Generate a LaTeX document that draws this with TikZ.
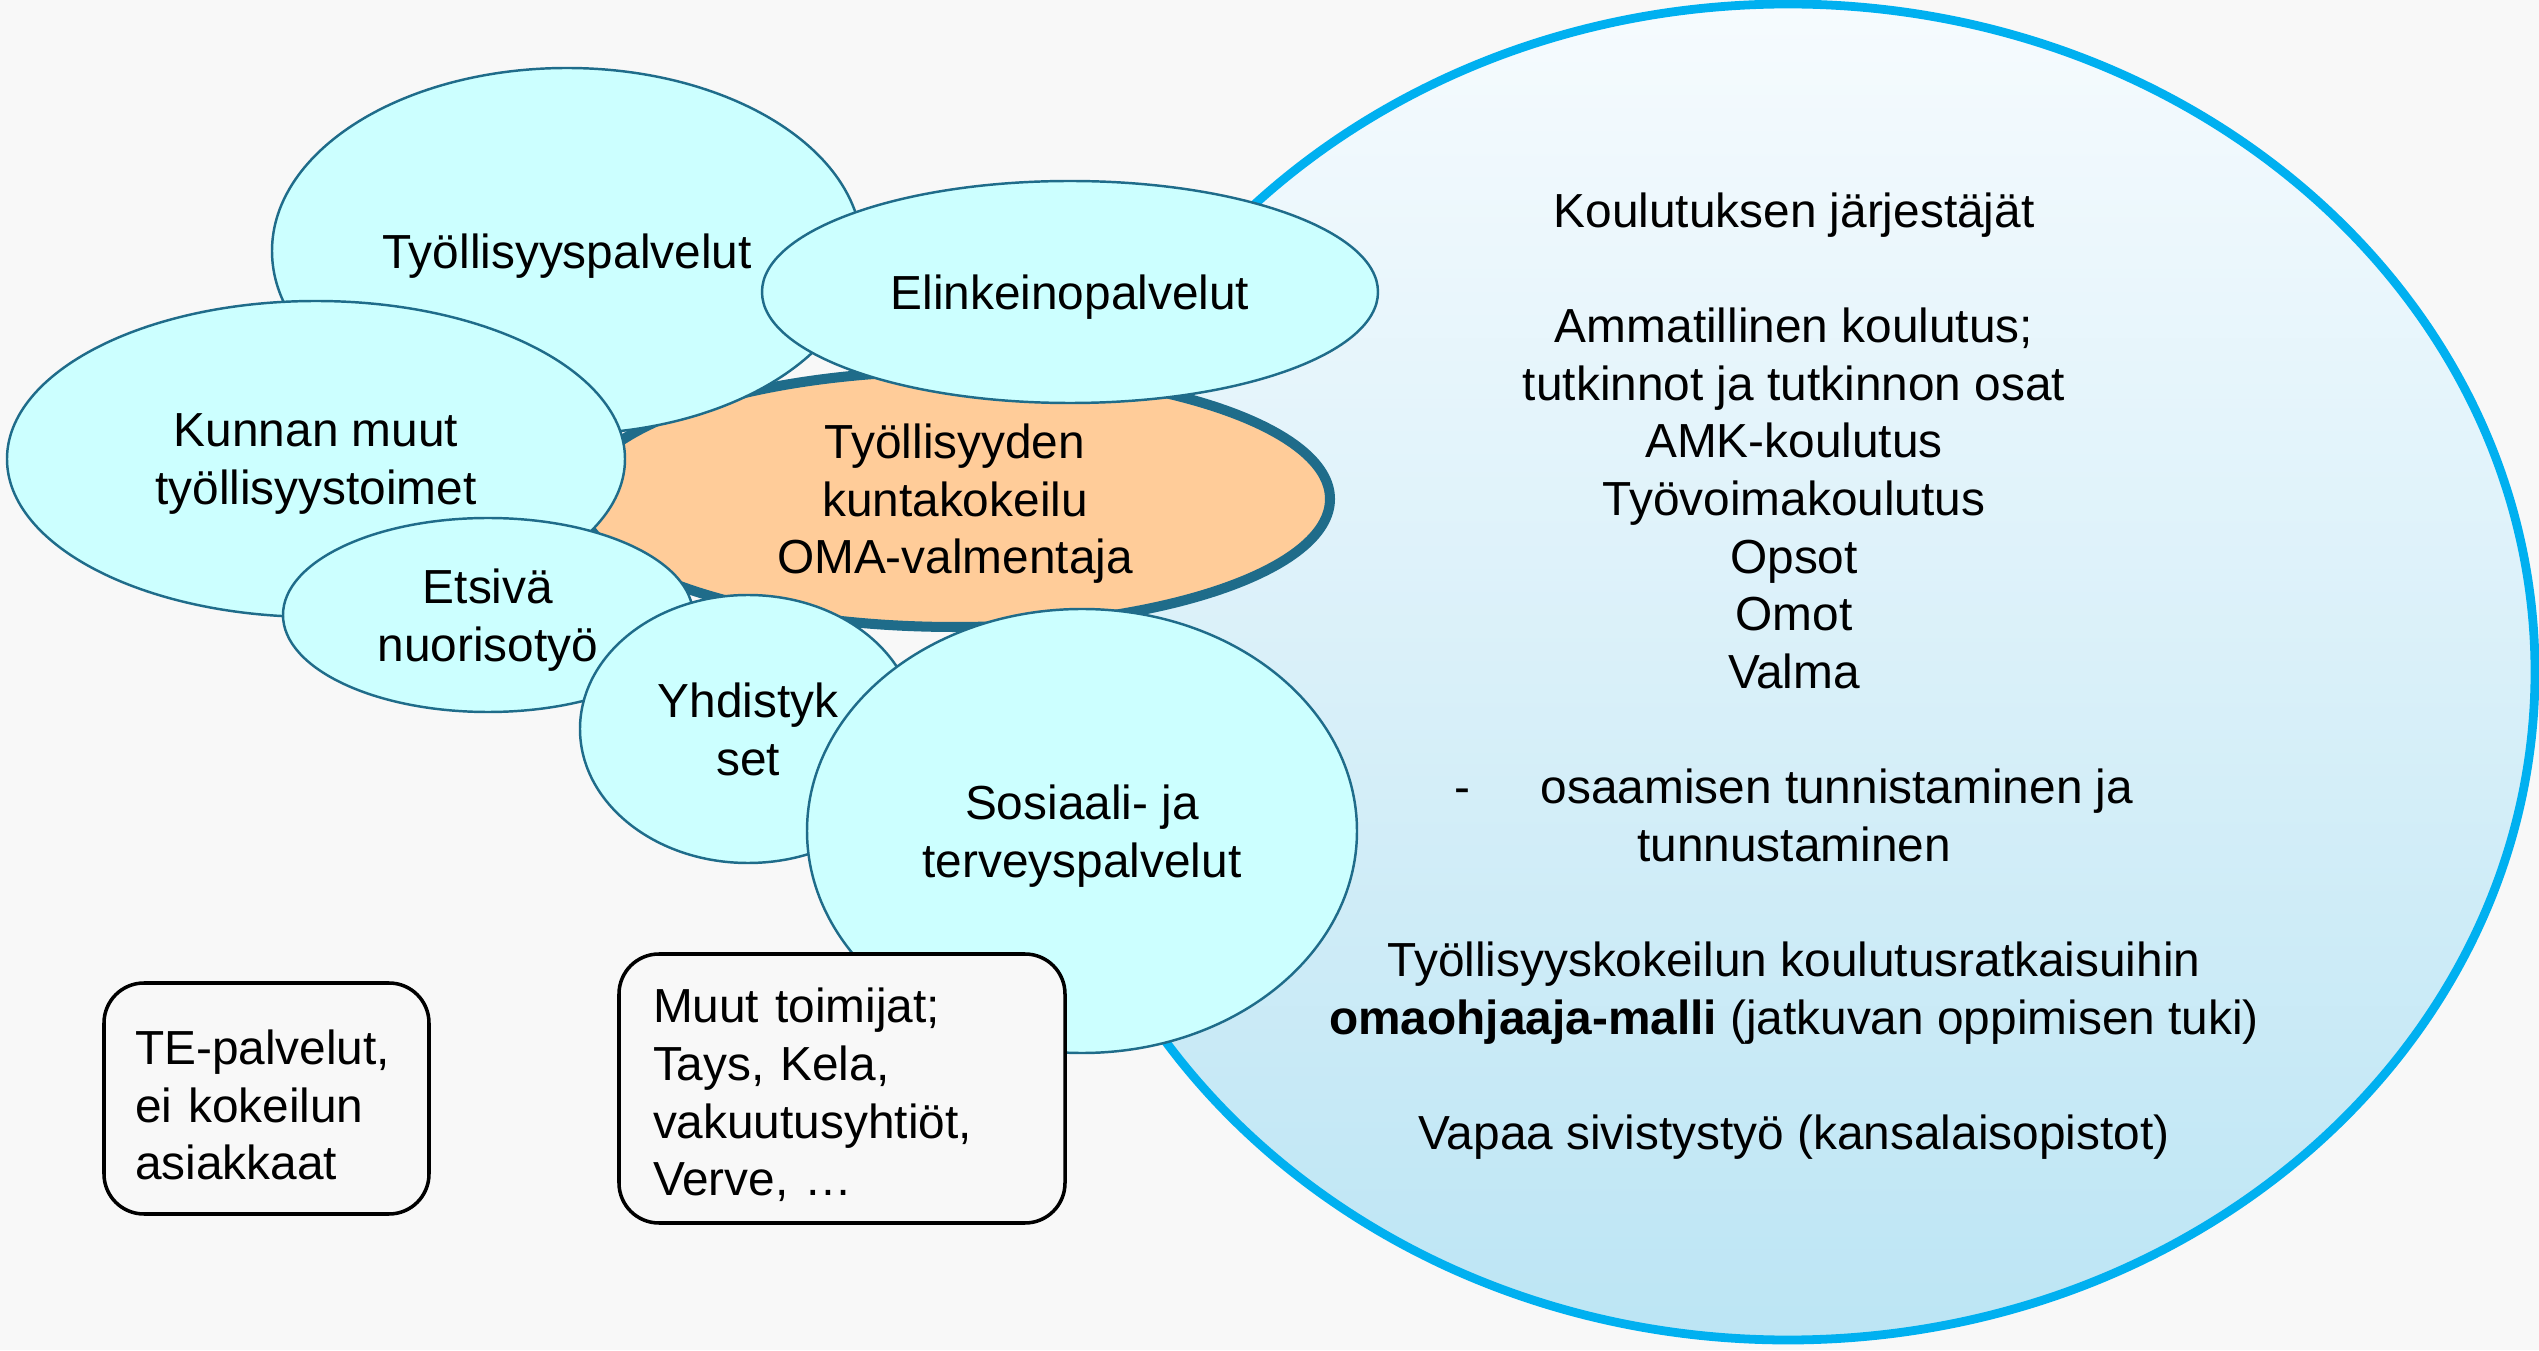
\documentclass[tikz,border=0pt]{standalone}
\usepackage{fontspec}
\setmainfont{Liberation Sans}
\usepackage{xcolor}
\definecolor{bggrey}{RGB}{248,248,248}
\definecolor{bubblecyan}{RGB}{204,255,255}
\definecolor{bubbleedge}{RGB}{31,108,138}
\definecolor{omaorange}{RGB}{255,204,153}
\definecolor{eduline}{RGB}{0,176,240}
\definecolor{edutop}{RGB}{246,251,254}
\definecolor{edubottom}{RGB}{188,229,244}
\usetikzlibrary{shapes.geometric}
\tikzset{
  bubble/.style={ellipse, draw=bubbleedge, line width=0.7pt, fill=bubblecyan, inner sep=0pt, align=center,
                 text depth=-0.8pt},
  infobox/.style={draw=black, line width=1pt, fill=bggrey, rounded corners=0.4cm, align=left, inner ysep=0pt,
                  execute at begin node={\rule{0pt}{1em}}}
}

\begin{document}
\begin{tikzpicture}[font=\fontsize{13.6}{16.4}\selectfont]

  \fill [bggrey] (0,0) rectangle (25.39,13.5);
  \useasboundingbox (0,0) rectangle (25.39,13.5);

  % koulutus
  \node [ellipse, draw=eduline, line width=2.5pt, top color=edutop, bottom color=edubottom,
         minimum width=14.94cm, minimum height=13.36cm] (edu) at (17.88,6.78) {};

  % kokeilu in the middle
  \node [bubble, fill=omaorange, line width=2.85pt, minimum width=7.5cm, minimum height=2.56cm]
    (oma) at (9.55,8.51) {Työllisyyden\\kuntakokeilu\\OMA-valmentaja};

  \node [bubble, minimum width=5.9cm, minimum height=3.66cm] (tyo) at (5.67,10.99) {Työllisyyspalvelut};
  \node [bubble, minimum width=6.16cm, minimum height=2.22cm] (elinkeino) at (10.70,10.58) {Elinkeinopalvelut};
  \node [bubble, minimum width=6.18cm, minimum height=3.16cm] (kunta) at (3.16,8.91) {Kunnan muut\\työllisyystoimet};
  \node [bubble, minimum width=4.1cm, minimum height=1.94cm] (etsiva) at (4.88,7.35) {Etsivä\\nuorisotyö};
  \node [bubble, minimum width=3.36cm, minimum height=2.68cm] (yhd) at (7.48,6.21) {Yhdistyk\\set};
  \node [bubble, minimum width=5.5cm, minimum height=4.44cm] (sote) at (10.82,5.19) {Sosiaali- ja\\terveyspalvelut};

  \node [infobox, text width=2.63cm, inner xsep=0.31cm, minimum height=2.31cm] (te) at (2.665,2.515)
    {TE-palvelut,\\ei kokeilun\\asiakkaat};
  \node [infobox, text width=3.78cm, inner xsep=0.34cm, minimum height=2.69cm] (muut) at (8.42,2.615)
    {Muut toimijat;\\Tays, Kela,\\vakuutusyhtiöt,\\Verve, …};

  \node [align=center] (edutext) at (17.94,6.74) {Koulutuksen järjestäjät\\ \mbox{}\\
    Ammatillinen koulutus;\\ tutkinnot ja tutkinnon osat\\ AMK-koulutus\\ Työvoimakoulutus\\
    Opsot\\ Omot\\ Valma\\ \mbox{}\\
    -\hspace{0.7cm}osaamisen tunnistaminen ja\\ tunnustaminen\\ \mbox{}\\
    Työllisyyskokeilun koulutusratkaisuihin\\ \textbf{omaohjaaja-malli} (jatkuvan oppimisen tuki)\\ \mbox{}\\
    Vapaa sivistystyö (kansalaisopistot)};
\end{tikzpicture}
\end{document}
